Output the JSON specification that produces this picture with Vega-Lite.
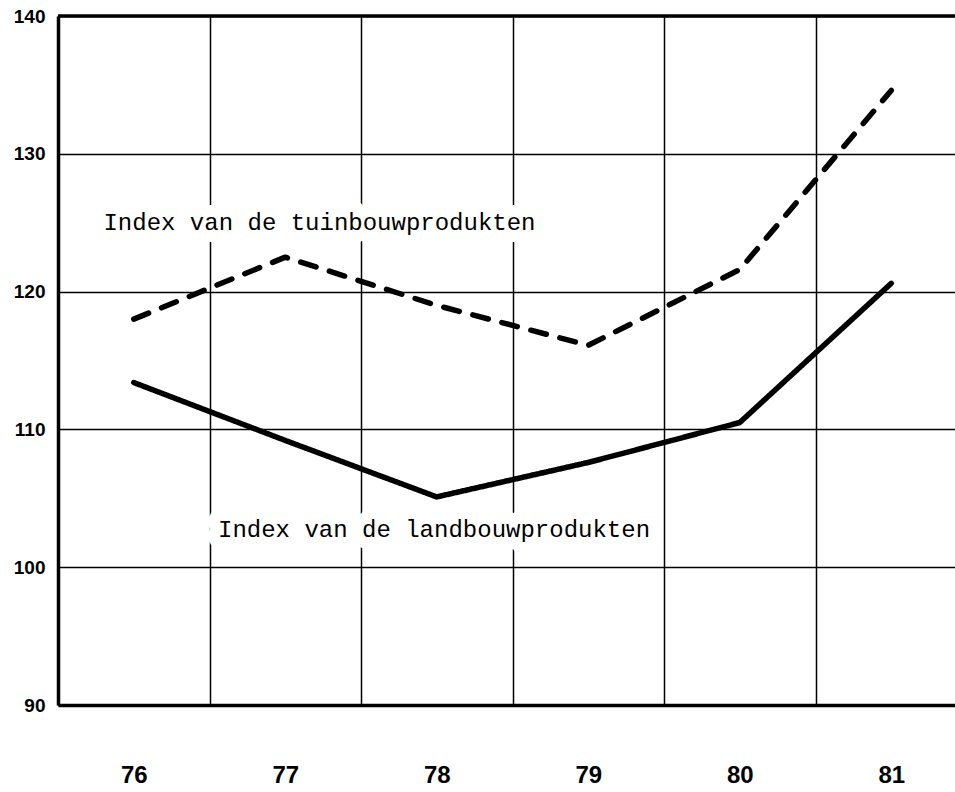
{
  "$schema": "https://vega.github.io/schema/vega-lite/v6.json",
  "width": 897,
  "height": 689,
  "autosize": {"type": "none"},
  "padding": {"left": 58, "top": 16, "right": 0, "bottom": 87},
  "background": "white",
  "config": {
    "view": {"stroke": null},
    "axis": {"labelColor": "black"}
  },
  "datasets": {
    "series": [
      {"jaar": "76", "index": 118.0, "reeks": "tuinbouw"},
      {"jaar": "77", "index": 122.5, "reeks": "tuinbouw"},
      {"jaar": "78", "index": 119.0, "reeks": "tuinbouw"},
      {"jaar": "79", "index": 116.1, "reeks": "tuinbouw"},
      {"jaar": "80", "index": 121.6, "reeks": "tuinbouw"},
      {"jaar": "81", "index": 134.6, "reeks": "tuinbouw"},
      {"jaar": "76", "index": 113.4, "reeks": "landbouw"},
      {"jaar": "77", "index": 109.2, "reeks": "landbouw"},
      {"jaar": "78", "index": 105.1, "reeks": "landbouw"},
      {"jaar": "79", "index": 107.6, "reeks": "landbouw"},
      {"jaar": "80", "index": 110.5, "reeks": "landbouw"},
      {"jaar": "81", "index": 120.6, "reeks": "landbouw"}
    ],
    "labels": [
      {"jaar": "76", "index": 125.0, "tekst": "Index van de tuinbouwprodukten", "reeks": "tuinbouw"},
      {"jaar": "77", "index": 102.7, "tekst": "Index van de landbouwprodukten", "reeks": "landbouw"}
    ]
  },
  "encoding": {
    "x": {
      "field": "jaar",
      "type": "ordinal",
      "scale": {"type": "band", "domain": ["76", "77", "78", "79", "80", "81"], "range": [0, 909], "paddingInner": 0, "paddingOuter": 0},
      "axis": {
        "title": null,
        "labelAngle": 0,
        "tickBand": "extent",
        "ticks": false,
        "grid": true,
        "gridColor": "black",
        "gridWidth": 1.5,
        "gridOpacity": 1,
        "domain": true,
        "domainColor": "black",
        "domainWidth": 3.5,
        "labelPadding": 58,
        "labelFont": "Liberation Sans",
        "labelFontWeight": "bold",
        "labelFontSize": 24,
        "zindex": 0
      }
    },
    "y": {
      "field": "index",
      "type": "quantitative",
      "scale": {"domain": [90, 140], "nice": false, "zero": false},
      "axis": {
        "title": null,
        "values": [90, 100, 110, 120, 130, 140],
        "ticks": false,
        "grid": true,
        "gridColor": "black",
        "gridWidth": 1.5,
        "gridOpacity": 1,
        "domain": true,
        "domainColor": "black",
        "domainWidth": 3.5,
        "labelPadding": 13,
        "labelFont": "Liberation Sans",
        "labelFontWeight": "bold",
        "labelFontSize": 19,
        "zindex": 0
      }
    }
  },
  "layer": [
    {
      "data": {"values": [{"top": 140}]},
      "mark": {"type": "rule", "color": "black", "strokeWidth": 3.5},
      "encoding": {"x": null, "y": {"field": "top", "type": "quantitative"}}
    },
    {
      "data": {"name": "labels"},
      "transform": [{"filter": "datum.reeks === 'tuinbouw'"}],
      "mark": {"type": "text", "align": "left", "baseline": "middle", "font": "Liberation Mono", "fontSize": 24, "color": "white", "stroke": "white", "strokeWidth": 24, "strokeJoin": "round"},
      "encoding": {
        "x": {"field": "jaar", "type": "ordinal", "bandPosition": 0.3},
        "text": {"field": "tekst"}
      }
    },
    {
      "data": {"name": "labels"},
      "transform": [{"filter": "datum.reeks === 'landbouw'"}],
      "mark": {"type": "text", "align": "left", "baseline": "middle", "font": "Liberation Mono", "fontSize": 24, "color": "white", "stroke": "white", "strokeWidth": 24, "strokeJoin": "round"},
      "encoding": {
        "x": {"field": "jaar", "type": "ordinal", "bandPosition": 0.056},
        "text": {"field": "tekst"}
      }
    },
    {
      "data": {"name": "series"},
      "mark": {"type": "line", "color": "black", "strokeWidth": 5.5, "strokeCap": "round", "strokeJoin": "round"},
      "encoding": {
        "x": {"field": "jaar", "type": "ordinal", "bandPosition": 0.5},
        "strokeDash": {
          "field": "reeks",
          "type": "nominal",
          "scale": {"domain": ["tuinbouw", "landbouw"], "range": [[16, 14], [1, 0]]},
          "legend": null
        }
      }
    },
    {
      "data": {"name": "labels"},
      "transform": [{"filter": "datum.reeks === 'tuinbouw'"}],
      "mark": {"type": "text", "align": "left", "baseline": "middle", "font": "Liberation Mono", "fontSize": 24, "color": "black"},
      "encoding": {
        "x": {"field": "jaar", "type": "ordinal", "bandPosition": 0.3},
        "text": {"field": "tekst"}
      }
    },
    {
      "data": {"name": "labels"},
      "transform": [{"filter": "datum.reeks === 'landbouw'"}],
      "mark": {"type": "text", "align": "left", "baseline": "middle", "font": "Liberation Mono", "fontSize": 24, "color": "black"},
      "encoding": {
        "x": {"field": "jaar", "type": "ordinal", "bandPosition": 0.056},
        "text": {"field": "tekst"}
      }
    }
  ]
}
